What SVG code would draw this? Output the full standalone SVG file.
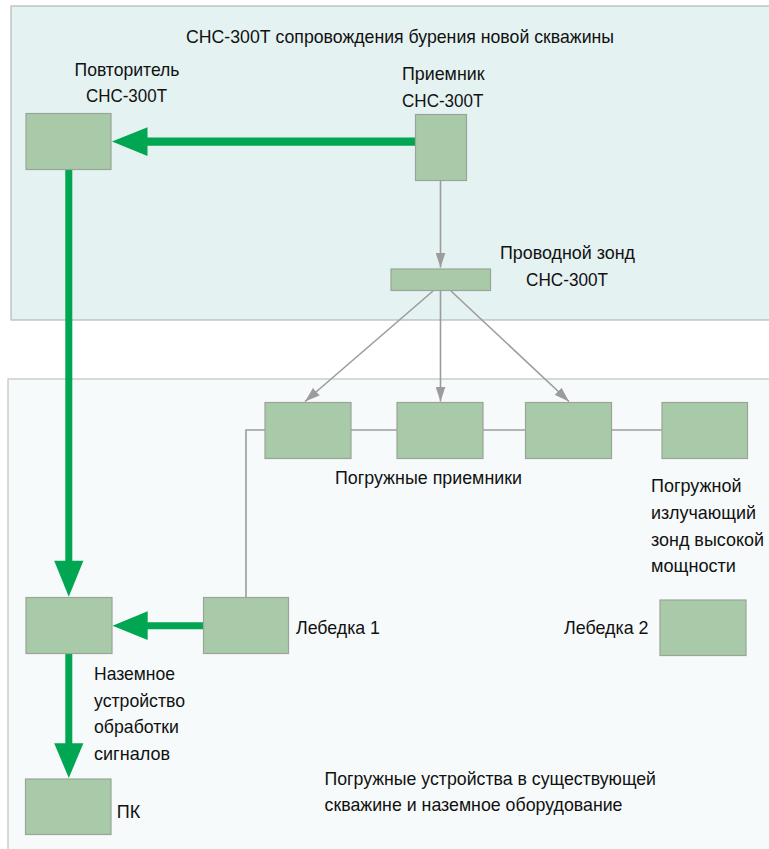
<svg xmlns="http://www.w3.org/2000/svg" width="769" height="849" viewBox="0 0 769 849">
  <defs>
    <style>
      .panel-top { fill: #e4f2f2; stroke: #b4b8b8; stroke-width: 1.2; }
      .panel-bot { fill: #f6fafa; stroke: #c0c4c4; stroke-width: 1.2; }
      .node { fill: #a8caa8; stroke: #9aa49a; stroke-width: 1.2; }
      .lbl { font-family: "Liberation Sans", Arial, sans-serif; font-size: 18.5px; fill: #111; }
      .wire { fill: none; stroke: #9c9c9c; stroke-width: 1.6; }
      .flow { fill: none; stroke: #00a651; }
      .head { fill: #00a651; }
    </style>
    <marker id="greyTip" viewBox="0 0 15 10" refX="15" refY="5" markerWidth="15" markerHeight="10" markerUnits="userSpaceOnUse" orient="auto">
      <path d="M0,0 L15,5 L0,10 Z" fill="#9c9c9c"/>
    </marker>
  </defs>

  <!-- panels -->
  <rect class="panel-top" x="11" y="6" width="770" height="314"/>
  <rect class="panel-bot" x="8" y="379" width="775" height="480"/>

  <text class="lbl" x="186" y="42.5" textLength="428" lengthAdjust="spacingAndGlyphs">СНС-300Т сопровождения бурения новой скважины</text>

  <!-- connectors -->
  <g id="connectors">
    <!-- grey probe wiring -->
    <line class="wire" x1="440.5" y1="181" x2="440.5" y2="267.5" marker-end="url(#greyTip)"/>
    <line class="wire" x1="433" y1="291" x2="305" y2="401.5" marker-end="url(#greyTip)"/>
    <line class="wire" x1="440.5" y1="291" x2="440.5" y2="401.5" marker-end="url(#greyTip)"/>
    <line class="wire" x1="451" y1="291" x2="569" y2="401.5" marker-end="url(#greyTip)"/>
    <polyline class="wire" points="246,597 246,430 265,430"/>
    <line class="wire" x1="351" y1="430" x2="397" y2="430"/>
    <line class="wire" x1="483" y1="430" x2="525" y2="430"/>
    <line class="wire" x1="612" y1="430" x2="662" y2="430"/>

    <!-- green signal paths -->
    <line class="flow" stroke-width="8.2" x1="415" y1="141.6" x2="146" y2="141.6"/>
    <polygon class="head" points="112,141.6 147.5,127.3 147.5,156"/>

    <line class="flow" stroke-width="7" x1="68.8" y1="169" x2="68.8" y2="562"/>
    <polygon class="head" points="68.8,596.8 54.2,560.7 83.4,560.7"/>

    <line class="flow" stroke-width="7" x1="203.5" y1="625.8" x2="146" y2="625.8"/>
    <polygon class="head" points="112.5,625.8 147.7,611.3 147.7,640"/>

    <line class="flow" stroke-width="7" x1="68.8" y1="653" x2="68.8" y2="744"/>
    <polygon class="head" points="68.8,778 54.2,743.3 83.4,743.3"/>
  </g>

  <!-- nodes -->
  <g id="repeater">
    <rect class="node" x="26" y="113.5" width="85" height="56"/>
    <text class="lbl" x="74.5" y="76" textLength="105" lengthAdjust="spacingAndGlyphs">Повторитель</text>
    <text class="lbl" x="86" y="102.3" textLength="81" lengthAdjust="spacingAndGlyphs">СНС-300Т</text>
  </g>

  <g id="receiver">
    <rect class="node" x="415.5" y="114.5" width="51" height="66"/>
    <text class="lbl" x="402" y="80" textLength="82.5" lengthAdjust="spacingAndGlyphs">Приемник</text>
    <text class="lbl" x="402" y="106.7" textLength="81.5" lengthAdjust="spacingAndGlyphs">СНС-300Т</text>
  </g>

  <g id="wire-probe">
    <rect class="node" x="391" y="269" width="99.5" height="21.5"/>
    <text class="lbl" x="500" y="259.3" textLength="135" lengthAdjust="spacingAndGlyphs">Проводной зонд</text>
    <text class="lbl" x="526" y="285.7" textLength="82" lengthAdjust="spacingAndGlyphs">СНС-300Т</text>
  </g>

  <g id="downhole-receivers">
    <rect class="node" x="265" y="402.5" width="86" height="56"/>
    <rect class="node" x="397" y="402.5" width="86" height="56"/>
    <rect class="node" x="525.5" y="402.5" width="86" height="56"/>
    <text class="lbl" x="335" y="484" textLength="187" lengthAdjust="spacingAndGlyphs">Погружные приемники</text>
  </g>

  <g id="hp-probe">
    <rect class="node" x="662" y="402.5" width="85.5" height="56"/>
    <text class="lbl" x="651" y="491.7" textLength="90.5" lengthAdjust="spacingAndGlyphs">Погружной</text>
    <text class="lbl" x="651" y="518.6" textLength="105" lengthAdjust="spacingAndGlyphs">излучающий</text>
    <text class="lbl" x="651" y="545.5" textLength="113" lengthAdjust="spacingAndGlyphs">зонд высокой</text>
    <text class="lbl" x="651" y="572.3" textLength="85" lengthAdjust="spacingAndGlyphs">мощности</text>
  </g>

  <g id="winch-1">
    <rect class="node" x="203.5" y="597.5" width="85" height="56"/>
    <text class="lbl" x="296" y="634.3" textLength="84" lengthAdjust="spacingAndGlyphs">Лебедка 1</text>
  </g>

  <g id="winch-2">
    <rect class="node" x="660" y="600" width="86" height="55.5"/>
    <text class="lbl" x="564" y="634.3" textLength="84.5" lengthAdjust="spacingAndGlyphs">Лебедка 2</text>
  </g>

  <g id="ground-unit">
    <rect class="node" x="26" y="597.5" width="86" height="56"/>
    <text class="lbl" x="94" y="680" textLength="81" lengthAdjust="spacingAndGlyphs">Наземное</text>
    <text class="lbl" x="94" y="706.7" textLength="91" lengthAdjust="spacingAndGlyphs">устройство</text>
    <text class="lbl" x="94" y="733.3" textLength="85" lengthAdjust="spacingAndGlyphs">обработки</text>
    <text class="lbl" x="94" y="760" textLength="76" lengthAdjust="spacingAndGlyphs">сигналов</text>
  </g>

  <g id="pc">
    <rect class="node" x="25.5" y="779" width="85.5" height="55.5"/>
    <text class="lbl" x="116.7" y="818.3" textLength="23.5" lengthAdjust="spacingAndGlyphs">ПК</text>
  </g>

  <text class="lbl" x="324.5" y="785" textLength="331.5" lengthAdjust="spacingAndGlyphs">Погружные устройства в существующей</text>
  <text class="lbl" x="324.5" y="810.7" textLength="298" lengthAdjust="spacingAndGlyphs">скважине и наземное оборудование</text>
</svg>
